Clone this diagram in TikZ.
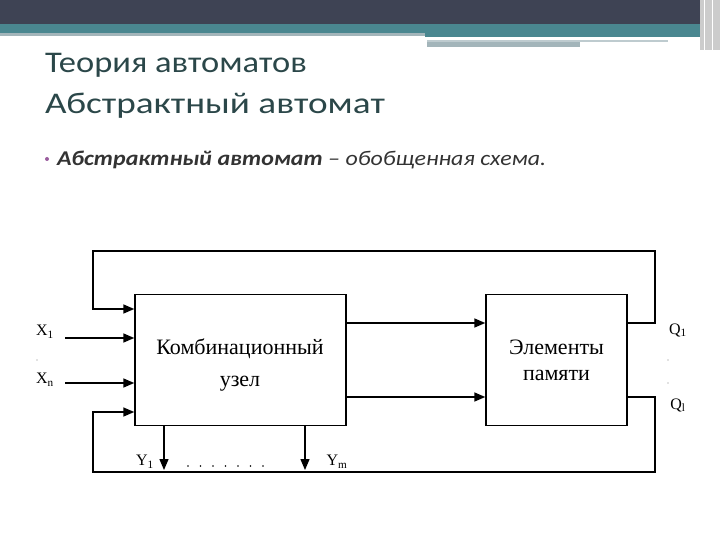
\documentclass[tikz,border=0pt]{standalone}
\usepackage{fontspec}
\setmainfont{Liberation Serif}
\newfontfamily\slidefont{Carlito}
\usetikzlibrary{arrows.meta,positioning}

\definecolor{bandDark}{HTML}{3E4354}
\definecolor{bandTeal}{HTML}{4A8790}
\definecolor{bandGray}{HTML}{A3B5BA}
\definecolor{titleCol}{HTML}{2B4749}
\definecolor{bulletCol}{HTML}{9A5D9E}

\begin{document}
\begin{tikzpicture}[x=1pt,y=1pt,
  blok/.style={draw,line width=1.4pt,inner sep=0pt,align=center,
    font=\fontsize{22}{26}\selectfont},
  lin/.style={line width=1.4pt},
  pil/.style={lin,-{Triangle[length=11pt,width=9pt]}},
  lbl/.style={font=\fontsize{16}{18}\selectfont,inner sep=0pt}]
\useasboundingbox (0,0) rectangle (720,-540);
% header
\fill[bandDark] (0,0) rectangle (720,-24);
\fill[bandTeal] (0,-24) rectangle (720,-33);
\fill[bandTeal] (425,-33) rectangle (700,-37);
\fill[bandGray] (0,-33) rectangle (425,-36);
\fill[bandGray!70] (427,-40) rectangle (668,-42);
\fill[bandGray] (427,-42) rectangle (580,-47);
\fill[gray!40] (700,0) rectangle (720,-50);
\draw[white,line width=1pt] (704,0) -- (704,-50) (712,0) -- (712,-50);
% title
\node[anchor=base west,inner sep=0pt,text=titleCol,
  font=\slidefont\fontsize{30}{32}\selectfont] (t1) at (45,-73)
  {\scalebox{1.15}[1]{Теория автоматов}};
\node[anchor=base west,inner sep=0pt,text=titleCol,
  font=\slidefont\fontsize{30}{32}\selectfont] (t2) at (45,-114)
  {\scalebox{1.24}[1]{Абстрактный автомат}};
\fill[bulletCol] (47,-159) circle (2);
\node[anchor=base west,inner sep=0pt,text=black!80,
  font=\slidefont\itshape\fontsize{21}{24}\selectfont] (b1) at (57,-166)
  {\scalebox{1.14}[1]{\textbf{Абстрактный автомат} – обобщенная схема.}};

% blocks
\node[blok,minimum width=211pt,minimum height=131pt] (komb) at (240.5,-360) {};
\node[font=\fontsize{22}{26}\selectfont,inner sep=0pt] (k1) at (240,-349) {Комбинационный};
\node[font=\fontsize{22}{26}\selectfont,inner sep=0pt] (k2) at (240,-384) {узел};
\node[blok,minimum width=141pt,minimum height=131pt] (mem) at (556.5,-360)
  {Элементы\\памяти};

% points
\coordinate (x1) at (65,-338);
\coordinate (xn) at (65,-383);
\coordinate (up) at (655,-251);
\coordinate (dn) at (655,-472);
\coordinate (fl) at (93,-251);
\coordinate (fd) at (93,-472);
\coordinate (o1) at (0,-323);
\coordinate (o2) at (0,-397);
\coordinate (i1) at (0,-309);
\coordinate (i2) at (0,-412);
\coordinate (y1) at (164,-470);
\coordinate (ym) at (305,-470);

% inputs
\draw[pil] (x1) -- (x1 -| komb.west);
\draw[pil] (xn) -- (xn -| komb.west);
\draw[pil] (komb.east |- o1) -- (mem.west |- o1);
\draw[pil] (komb.east |- o2) -- (mem.west |- o2);
% feedback
\draw[pil] (mem.east |- o1) -| (up) -- (fl) |- (komb.west |- i1);
\draw[pil] (mem.east |- o2) -| (dn) -- (fd) |- (komb.west |- i2);
% outputs
\draw[pil] (komb.south -| y1) -- (y1);
\draw[pil] (komb.south -| ym) -- (ym);

% labels
\node[lbl] (lx1) at (45,-332) {X\textsubscript{1}};
\node[lbl] (lxn) at (45,-380) {X\textsubscript{n}};
\fill[gray] (37,-360) circle (0.6);
\node[lbl] (lq1) at (678,-330) {Q\textsubscript{1}};
\node[lbl] (lql) at (678,-405) {Q\textsubscript{l}};
\fill[gray] (668,-360) circle (0.6);
\fill[gray] (668,-383) circle (0.6);
\node[lbl] (ly1) at (145,-462) {Y\textsubscript{1}};
\node[lbl] (lym) at (337,-462) {Y\textsubscript{m}};
\foreach \i in {0,...,6}
  \fill (188+12.5*\i,-466) circle (0.8);
\end{tikzpicture}
\end{document}
